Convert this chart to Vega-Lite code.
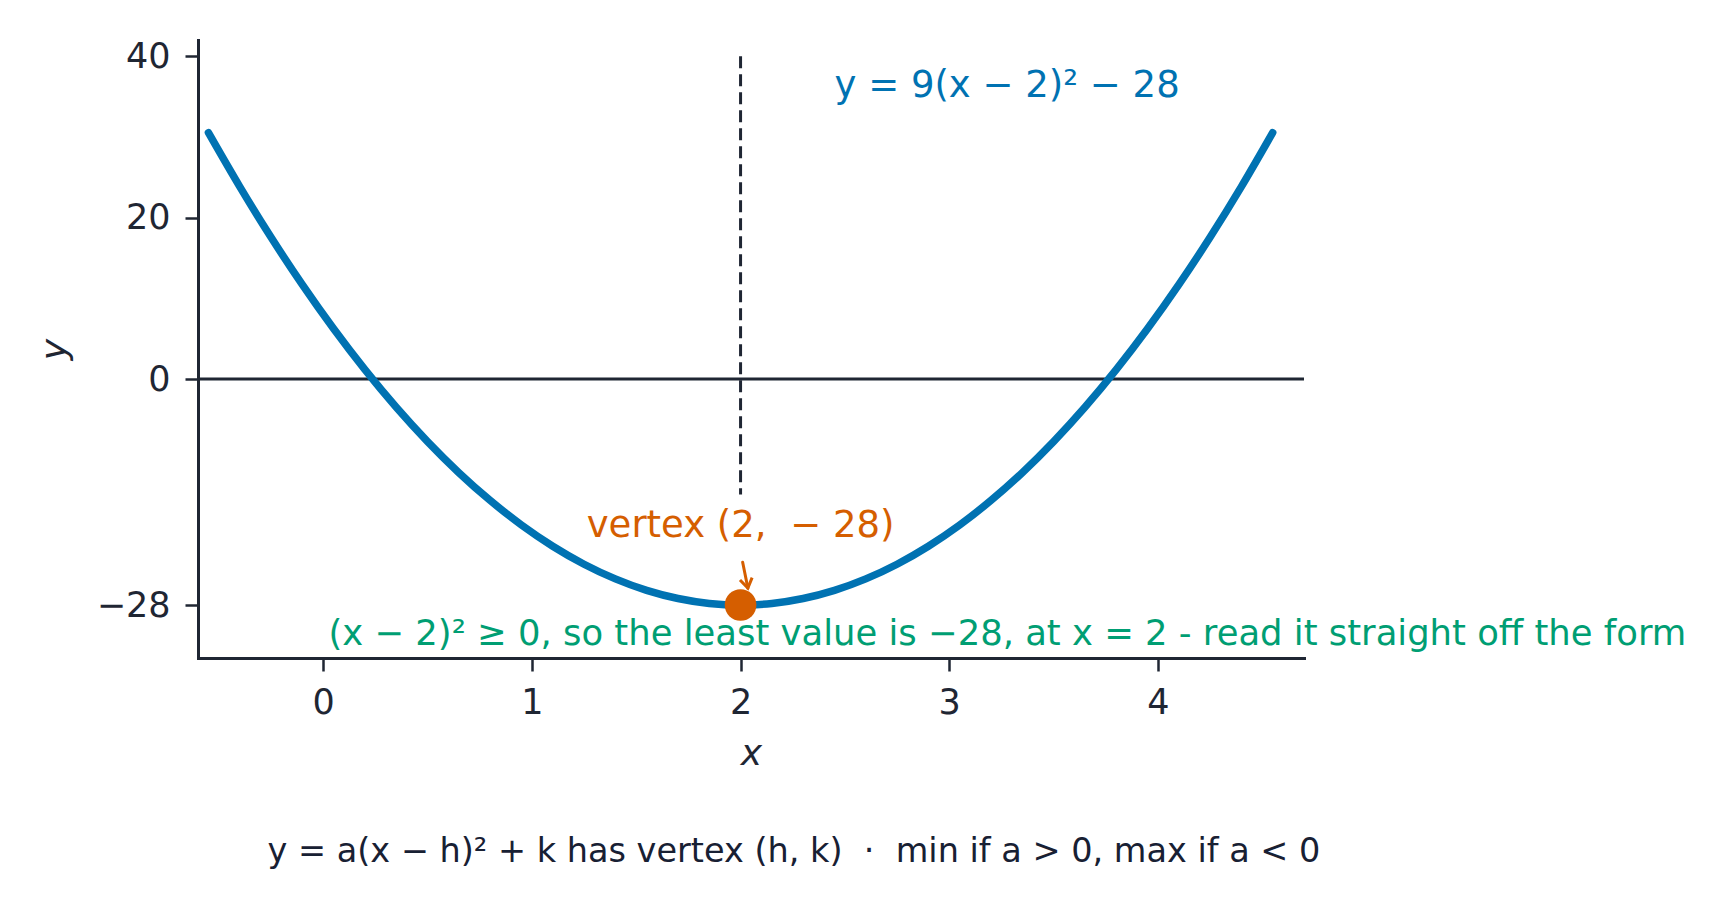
{
  "$schema": "https://vega.github.io/schema/vega-lite/v6.json",
  "width": 1106,
  "height": 618,
  "autosize": "none",
  "padding": {"left": 198, "top": 40, "right": 425, "bottom": 255},
  "background": "#ffffff",
  "datasets": {
    "curve": [
      {"x": -0.55, "y": 30.52}, {"x": -0.4, "y": 23.84}, {"x": -0.25, "y": 17.56},
      {"x": -0.1, "y": 11.69}, {"x": 0.05, "y": 6.22}, {"x": 0.2, "y": 1.16},
      {"x": 0.35, "y": -3.5}, {"x": 0.5, "y": -7.75}, {"x": 0.65, "y": -11.6},
      {"x": 0.8, "y": -15.04}, {"x": 0.95, "y": -18.08}, {"x": 1.1, "y": -20.71},
      {"x": 1.25, "y": -22.94}, {"x": 1.4, "y": -24.76}, {"x": 1.55, "y": -26.18},
      {"x": 1.7, "y": -27.19}, {"x": 1.85, "y": -27.8}, {"x": 2.0, "y": -28},
      {"x": 2.15, "y": -27.8}, {"x": 2.3, "y": -27.19}, {"x": 2.45, "y": -26.18},
      {"x": 2.6, "y": -24.76}, {"x": 2.75, "y": -22.94}, {"x": 2.9, "y": -20.71},
      {"x": 3.05, "y": -18.08}, {"x": 3.2, "y": -15.04}, {"x": 3.35, "y": -11.6},
      {"x": 3.5, "y": -7.75}, {"x": 3.65, "y": -3.5}, {"x": 3.8, "y": 1.16},
      {"x": 3.95, "y": 6.22}, {"x": 4.1, "y": 11.69}, {"x": 4.25, "y": 17.56},
      {"x": 4.4, "y": 23.84}, {"x": 4.55, "y": 30.52}
    ],
    "notes": [
      {"kind": "eq", "x": 2.45, "y": 34.9, "label": "y = 9(x − 2)² − 28"},
      {"kind": "vertex", "x": 2, "y": -19.6, "label": "vertex (2,\u00a0 − 28)"},
      {"kind": "hint", "x": 0.025, "y": -32.95, "label": "(x − 2)² ≥ 0, so the least value is −28, at x = 2 - read it straight off the form"},
      {"kind": "caption", "x": 2.256, "y": -59.8, "label": "y = a(x − h)² + k has vertex (h, k)\u00a0 · \u00a0min if a > 0, max if a < 0"}
    ]
  },
  "encoding": {
    "x": {
      "field": "x",
      "type": "quantitative",
      "scale": {"domain": [-0.6, 4.7], "nice": false, "zero": false},
      "axis": {
        "values": [0, 1, 2, 3, 4],
        "format": "d",
        "title": "x",
        "titleFontStyle": "italic",
        "titlePadding": 16,
        "labelPadding": 14
      }
    },
    "y": {
      "field": "y",
      "type": "quantitative",
      "scale": {"domain": [-34.56, 42.0], "nice": false, "zero": false},
      "axis": {
        "values": [-28, 0, 20, 40],
        "labelExpr": "replace(datum.label, '-', '−')",
        "title": "y",
        "titleFontStyle": "italic",
        "titlePadding": 23,
        "labelPadding": 15
      }
    }
  },
  "layer": [
    {
      "data": {"values": [{"y": 0}]},
      "mark": {"type": "rule", "color": "#1f2633", "strokeWidth": 3},
      "encoding": {"x": null}
    },
    {
      "data": {"values": [{"x": 2, "y": 40, "y2": -14.3}]},
      "mark": {"type": "rule", "color": "#1f2633", "strokeWidth": 3, "strokeDash": [12, 6]},
      "encoding": {"y2": {"field": "y2"}}
    },
    {
      "data": {"name": "curve"},
      "mark": {"type": "line", "color": "#0072B2", "strokeWidth": 7.5, "strokeCap": "round", "interpolate": "monotone"}
    },
    {
      "data": {"name": "notes"},
      "transform": [{"filter": "datum.kind == 'eq'"}],
      "mark": {"type": "text", "align": "left", "baseline": "alphabetic", "fontSize": 37, "color": "#0072B2"},
      "encoding": {"text": {"field": "label"}}
    },
    {
      "data": {"name": "notes"},
      "transform": [{"filter": "datum.kind == 'vertex'"}],
      "mark": {"type": "text", "align": "center", "baseline": "alphabetic", "fontSize": 37, "color": "#D55E00"},
      "encoding": {"text": {"field": "label"}}
    },
    {
      "data": {"name": "notes"},
      "transform": [{"filter": "datum.kind == 'hint'"}],
      "mark": {"type": "text", "align": "left", "baseline": "alphabetic", "fontSize": 35.4, "color": "#009E73"},
      "encoding": {"text": {"field": "label"}}
    },
    {
      "data": {"name": "notes"},
      "transform": [{"filter": "datum.kind == 'caption'"}],
      "mark": {"type": "text", "align": "center", "baseline": "alphabetic", "fontSize": 33.5, "color": "#182033"},
      "encoding": {"text": {"field": "label"}}
    },
    {
      "data": {"values": [{"x": 2.01, "y": -22.7, "x2": 2.035, "y2": -25.9}]},
      "mark": {"type": "rule", "color": "#D55E00", "strokeWidth": 3, "strokeCap": "round"},
      "encoding": {"x2": {"field": "x2"}, "y2": {"field": "y2"}}
    },
    {
      "data": {"values": [{"x": 2.035, "y": -25.9}]},
      "mark": {"type": "point", "shape": "M-0.65,-1L0,0L0.65,-1", "filled": false, "size": 361, "angle": -11, "color": "#D55E00", "strokeWidth": 3, "strokeJoin": "miter", "opacity": 1}
    },
    {
      "data": {"values": [{"x": 2, "y": -28}]},
      "mark": {"type": "circle", "size": 1000, "color": "#D55E00", "opacity": 1}
    }
  ],
  "config": {
    "font": "DejaVu Sans",
    "view": {"stroke": null},
    "axis": {
      "grid": false,
      "domainColor": "#1f2633",
      "domainWidth": 3,
      "domainCap": "square",
      "tickColor": "#1f2633",
      "tickWidth": 2.5,
      "tickSize": 13,
      "labelColor": "#1f2633",
      "labelFontSize": 35,
      "labelFont": "DejaVu Sans",
      "titleColor": "#1f2633",
      "titleFontSize": 36,
      "titleFont": "DejaVu Sans",
      "titleFontWeight": "normal"
    }
  }
}
